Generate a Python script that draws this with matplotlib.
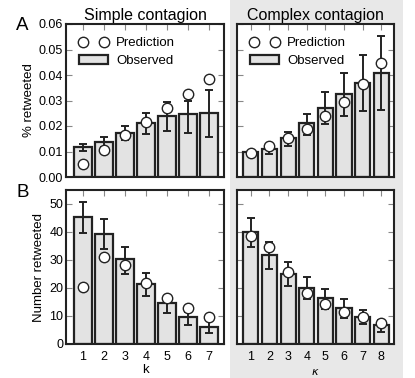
import matplotlib
matplotlib.use("Agg")
from matplotlib import pyplot as plt
from matplotlib.patches import Rectangle
from matplotlib.lines import Line2D
import numpy as np

plt.rcParams['font.family'] = ['Liberation Sans', 'DejaVu Sans']

# simple contagion, k = 1..7
k_simple = [1, 2, 3, 4, 5, 6, 7]
frac_obs_s = [0.0118, 0.0138, 0.0173, 0.0212, 0.0240, 0.0249, 0.0250]
frac_lo_s = [0.0102, 0.0118, 0.0144, 0.0168, 0.0180, 0.0173, 0.0157]
frac_hi_s = [0.0131, 0.0155, 0.0199, 0.0252, 0.0296, 0.0300, 0.0343]
frac_pred_s = [0.0052, 0.0107, 0.0164, 0.0216, 0.0272, 0.0325, 0.0383]

num_obs_s = [45.2, 39.2, 30.2, 21.3, 14.5, 9.8, 6.2]
num_lo_s = [39.8, 33.8, 25.0, 17.1, 11.0, 6.8, 3.8]
num_hi_s = [50.8, 44.5, 34.8, 25.5, 16.5, 11.5, 8.6]
num_pred_s = [20.5, 31.0, 28.2, 21.9, 16.5, 12.7, 9.5]

# complex contagion, kappa = 1..8
k_complex = [1, 2, 3, 4, 5, 6, 7, 8]
frac_obs_c = [0.0098, 0.0111, 0.0151, 0.0210, 0.0272, 0.0325, 0.0367, 0.0409]
frac_lo_c = [0.0095, 0.0092, 0.0121, 0.0164, 0.0207, 0.0238, 0.0258, 0.0262]
frac_hi_c = [0.0102, 0.0121, 0.0177, 0.0249, 0.0333, 0.0409, 0.0478, 0.0553]
frac_pred_c = [0.0096, 0.0122, 0.0153, 0.0190, 0.0238, 0.0295, 0.0364, 0.0449]

num_obs_c = [39.9, 31.8, 25.1, 20.1, 16.3, 12.7, 9.5, 6.8]
num_lo_c = [34.5, 26.7, 20.7, 16.0, 12.4, 9.2, 7.1, 4.4]
num_hi_c = [44.9, 36.5, 29.4, 24.0, 19.6, 16.0, 12.1, 8.6]
num_pred_c = [38.6, 34.5, 25.6, 18.3, 14.3, 11.5, 9.5, 7.4]

W, H = 415, 378
fig = plt.figure(figsize=(W / 100, H / 100), dpi=100)
fig.patches.append(Rectangle((230 / W, 0), 173 / W, 1, transform=fig.transFigure,
                             facecolor='#e8e8e8', edgecolor='none', zorder=-5))


def px_axes(x0, y0, x1, y1):
    ax = fig.add_axes([x0 / W, 1 - y1 / H, (x1 - x0) / W, (y1 - y0) / H])
    ax.set_zorder(2)
    return ax


def panel(ax, x, obs, lo, hi, pred, width, xlim, ylim, yticks):
    obs = np.array(obs)
    err = [obs - np.array(lo), np.array(hi) - obs]
    ax.bar(x, obs, width=width, color='#e3e3e3', edgecolor='#222222', linewidth=1.6, zorder=2)
    ax.errorbar(x, obs, yerr=err, fmt='none', ecolor='#222222', elinewidth=1.4,
                capsize=3, capthick=1.4, zorder=3)
    ax.plot(x, pred, 'o', ms=7.5, mfc='white', mec='#222222', mew=1.0, zorder=4)
    ax.set_xlim(*xlim)
    ax.set_ylim(*ylim)
    ax.set_xticks(x)
    ax.set_yticks(yticks)
    ax.tick_params(direction='in', top=True, right=True, length=4, width=0.8,
                   color='#888888', labelsize=9, pad=2)
    ax.tick_params(axis='x', pad=5)
    for s in ax.spines.values():
        s.set_linewidth(1.5)
        s.set_color('#222222')
    ax.set_facecolor('white')


def legend(ax):
    handles = [Line2D([], [], ls='none', marker='o', ms=7.5, mfc='white', mec='#222222', mew=1.0),
               Rectangle((0, 0), 1, 1, facecolor='#e3e3e3', edgecolor='#222222', linewidth=1.6)]
    ax.legend(handles, ['Prediction', 'Observed'], loc='upper left', frameon=False,
              numpoints=2, fontsize=9.5, handlelength=2.2, handletextpad=0.6,
              borderaxespad=0.5, labelspacing=0.4, borderpad=0.5)


frac_ticks = [0.0, 0.01, 0.02, 0.03, 0.04, 0.05, 0.06]
num_ticks = [0, 10, 20, 30, 40, 50]

ax1 = px_axes(66, 24, 224, 177)
panel(ax1, k_simple, frac_obs_s, frac_lo_s, frac_hi_s, frac_pred_s, 0.85, (0.21, 7.71), (0, 0.06), frac_ticks)
ax1.set_yticklabels(['%.2f' % t for t in frac_ticks])
ax1.set_xticklabels([])
ax1.set_ylabel('% retweeted', fontsize=9.5, labelpad=3)
ax1.set_title('Simple contagion', fontsize=11.5, pad=3)
legend(ax1)

ax2 = px_axes(237, 24, 394, 177)
panel(ax2, k_complex, frac_obs_c, frac_lo_c, frac_hi_c, frac_pred_c, 0.81, (0.26, 8.68), (0, 0.06), frac_ticks)
ax2.set_yticklabels([])
ax2.set_xticklabels([])
ax2.set_title('Complex contagion', fontsize=11.5, pad=3)
legend(ax2)

ax3 = px_axes(66, 190, 224, 344)
panel(ax3, k_simple, num_obs_s, num_lo_s, num_hi_s, num_pred_s, 0.85, (0.21, 7.71), (0, 55), num_ticks)
ax3.set_ylabel('Number retweeted', fontsize=9.5, labelpad=3)
ax3.set_xlabel('k', fontsize=9.5, labelpad=1)

ax4 = px_axes(237, 190, 394, 344)
panel(ax4, k_complex, num_obs_c, num_lo_c, num_hi_c, num_pred_c, 0.81, (0.26, 8.68), (0, 55), num_ticks)
ax4.set_yticklabels([])
ax4.set_xlabel(r'$\kappa$', fontsize=8, labelpad=3)

fig.text(16 / W, 1 - 30 / H, 'A', fontsize=13.5)
fig.text(16 / W, 1 - 197 / H, 'B', fontsize=13.5)

fig.savefig('out.png', dpi=100)
